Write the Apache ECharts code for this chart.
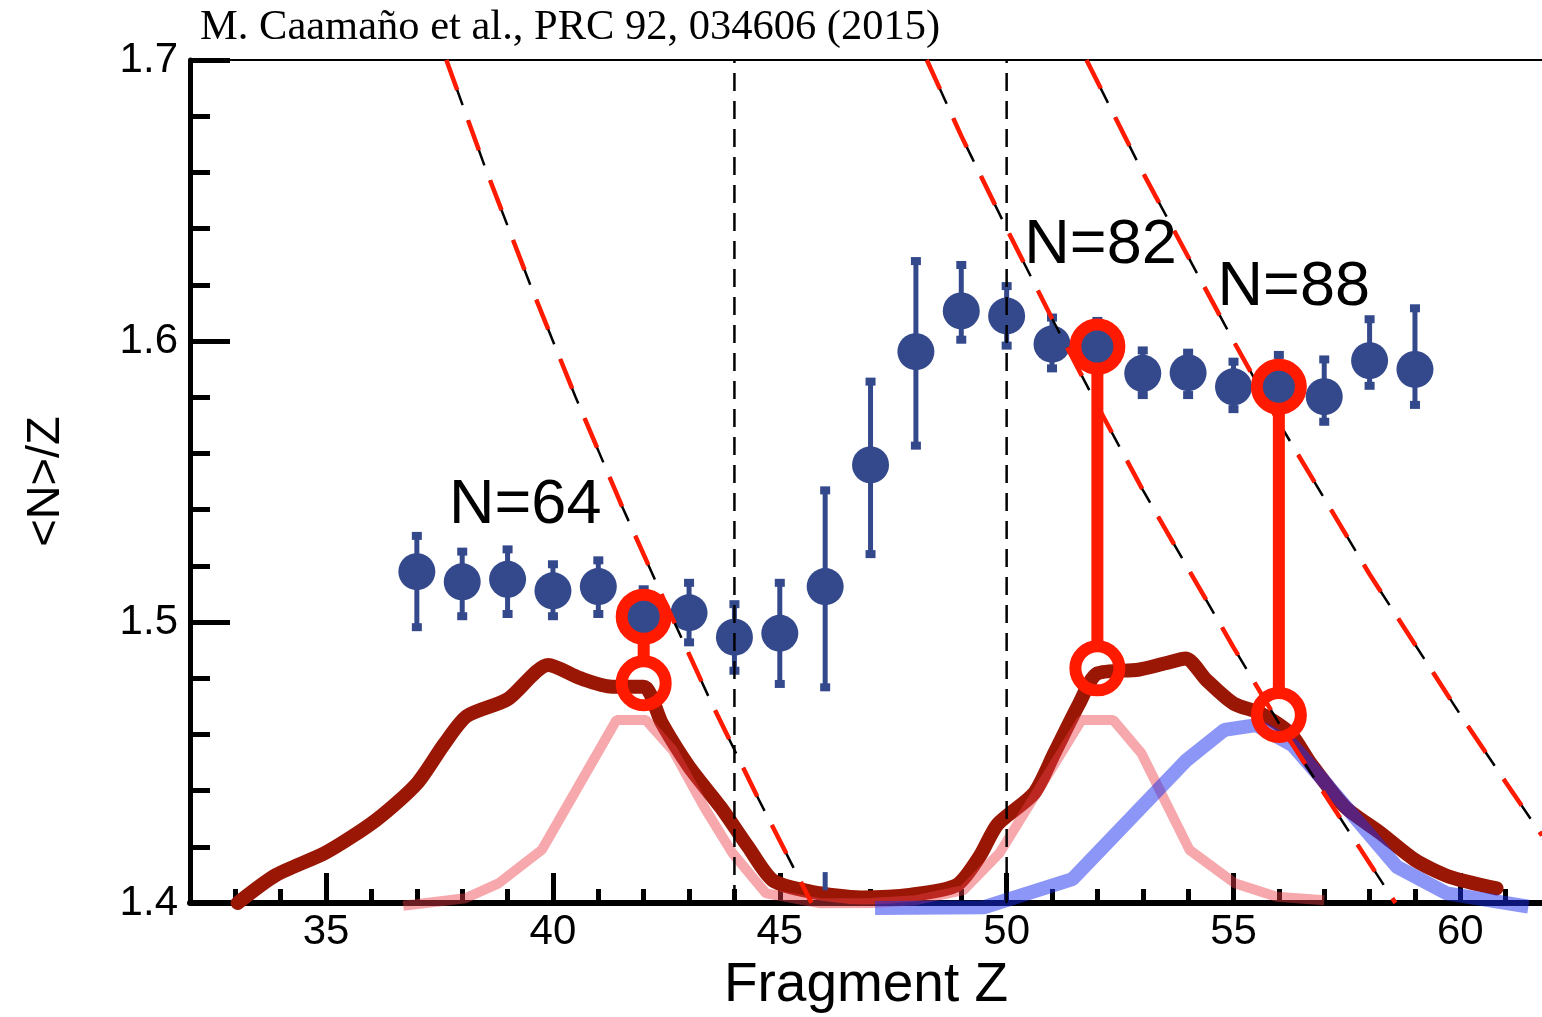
<!DOCTYPE html>
<html>
<head>
<meta charset="utf-8">
<script src="https://cdn.jsdelivr.net/npm/echarts@6/dist/echarts.min.js"></script>
<style>
html,body{margin:0;padding:0;background:#fff;}
#chart{width:1542px;height:1017px;}
</style>
</head>
<body>
<div id="chart"></div>
<script>
// ---- data ----
const zValues = [37,38,39,40,41,42,43,44,45,46,47,48,49,50,51,52,53,54,55,56,57,58,59];
const meanNZ  = [1.5179,1.5143,1.5152,1.5111,1.5126,1.5019,1.5033,1.4946,1.4960,1.5126,1.5559,1.5962,1.6107,1.6089,1.5989,1.5980,1.5885,1.5887,1.5837,1.5837,1.5802,1.5930,1.5899];
const errLow  = [1.4978,1.5017,1.5025,1.5017,1.5025,1.4920,1.4924,1.4823,1.4776,1.4764,1.5238,1.5624,1.6001,1.5980,1.5899,1.5890,1.5804,1.5804,1.5754,1.5740,1.5709,1.5837,1.5769];
const errHigh = [1.5310,1.5254,1.5262,1.5209,1.5223,1.5120,1.5143,1.5067,1.5143,1.5472,1.5859,1.6288,1.6274,1.6199,1.6087,1.6075,1.5970,1.5962,1.5930,1.5954,1.5938,1.6081,1.6120];
const strayZ = [46];
const strayLow = [1.4045];
const strayHigh = [1.4110];

const yieldZ = [33.05,33.9,35.0,36.1,37.0,37.6,38.1,39.0,39.9,40.6,41.3,42.0,42.4,43.0,43.7,44.3,44.85,45.7,46.8,47.9,48.9,49.4,49.8,50.6,51.05,51.6,52.0,52.9,53.5,53.95,54.4,55.0,55.6,56.25,56.7,57.45,58.25,59.0,59.75,60.8];
const yieldV = [1.400,1.410,1.418,1.4295,1.4425,1.4565,1.4665,1.4725,1.4847,1.480,1.477,1.477,1.464,1.4485,1.434,1.420,1.408,1.404,1.402,1.403,1.4064,1.4165,1.428,1.439,1.4533,1.471,1.4817,1.483,1.4853,1.487,1.4794,1.471,1.4675,1.4604,1.4497,1.4343,1.4248,1.4153,1.4094,1.4052];

const pinkZ = [36.7,38.07,38.8,39.76,41.4,42.05,42.64,43.37,43.96,44.7,45.9,47.0,48.0,49.05,49.84,51.65,52.35,52.97,54.03,55.03,55.95,57.0];
const pinkV = [1.399,1.4017,1.407,1.419,1.4651,1.4651,1.4544,1.4331,1.4177,1.4034,1.3999,1.400,1.401,1.4046,1.4177,1.4651,1.4651,1.4533,1.4189,1.407,1.4022,1.401];

const blueZ = [47.1,49.5,51.45,53.97,54.8,55.5,56.3,57.1,58.6,59.7,61.5];
const blueV = [1.3982,1.3985,1.4085,1.4509,1.4616,1.4633,1.4562,1.4414,1.4129,1.4034,1.3987];

const n64Z = [37.65,38.5,39.5,40.5,41.5,42.5,43.5,44.5,45.7];
const n64V = [1.700,1.662,1.620,1.580,1.542,1.506,1.471,1.438,1.400];
const n82Z = [48.24,49,50,51,52,53,54,55,56,57,58.57];
const n82V = [1.700,1.673,1.640,1.608,1.577,1.547,1.519,1.491,1.464,1.439,1.400];
const n88Z = [51.76,53,54,55,56,57,58,59,60,61,61.8];
const n88V = [1.700,1.660,1.630,1.600,1.571,1.544,1.517,1.492,1.467,1.443,1.424];

const vLineZ = [44, 50];

const ringZ = [42,52,56];
const ringTop = [1.5019,1.5980,1.5837];
const ringBottom = [1.4782,1.4835,1.4669];

const annoZ = [37.71,50.39,54.65];
const annoV = [1.5413,1.6338,1.6189];
const annoText = ['N=64','N=82','N=88'];

const xMajorTicks = [35,40,45,50,55,60];
const xMinorTicks = [33,34,36,37,38,39,41,42,43,44,46,47,48,49,51,52,53,54,56,57,58,59,61];
const titleText = 'M. Caamaño et al., PRC 92, 034606 (2015)';

// ---- build ----
const zip = (a, b) => a.map((v, i) => [v, b[i]]);
const SANS = 'Liberation Sans, Arial, Helvetica, sans-serif';
const BLUE = '#34498c';
const RED = '#ff1a00';
const RING_SIZE = 44;

const errData = zValues.map((z, i) => [z, errLow[i], errHigh[i], 1])
  .concat(strayZ.map((z, i) => [z, strayLow[i], strayHigh[i], 0]));

function renderErr(params, api) {
  const z = api.value(0);
  const lo = api.coord([z, api.value(1)]);
  const hi = api.coord([z, api.value(2)]);
  const caps = api.value(3) === 1;
  const children = [{
    type: 'line',
    shape: { x1: lo[0], y1: lo[1], x2: hi[0], y2: hi[1] },
    style: { stroke: BLUE, lineWidth: 5 }
  }];
  if (caps) {
    children.push({ type: 'rect', shape: { x: hi[0] - 5, y: hi[1] - 3, width: 10, height: 8 }, style: { fill: BLUE } });
    children.push({ type: 'rect', shape: { x: lo[0] - 5, y: lo[1] - 5, width: 10, height: 8 }, style: { fill: BLUE } });
  }
  return { type: 'group', children };
}

// connector between the two rings: runs from ring edge to ring edge
function renderConnector(params, api) {
  const z = api.value(0);
  const top = api.coord([z, api.value(1)]);
  const bot = api.coord([z, api.value(2)]);
  const r = RING_SIZE / 2;
  return {
    type: 'line',
    shape: { x1: top[0], y1: top[1] + r, x2: bot[0], y2: bot[1] - r },
    style: { stroke: RED, lineWidth: 12 }
  };
}

const connectorData = ringZ.map((z, i) => [z, ringTop[i], ringBottom[i]]);
const ringData = ringZ.map((z, i) => [z, ringTop[i]]).concat(ringZ.map((z, i) => [z, ringBottom[i]]));

const vLineSeries = vLineZ.map(z => ({
  type: 'line',
  data: [[z, 1.4], [z, 1.7]],
  symbol: 'none',
  lineStyle: { color: '#000', width: 2.5, type: [18, 10] },
  z: 4
}));

function hyper(z, v) {
  return [
    { type: 'line', data: zip(z, v), symbol: 'none', lineStyle: { color: '#000', width: 2.5, type: [48, 16] }, z: 4 },
    { type: 'line', data: zip(z, v), symbol: 'none', lineStyle: { color: RED, width: 4.5, type: [32, 32] }, z: 4 }
  ];
}

const option = {
  animation: false,
  backgroundColor: '#fff',
  title: {
    text: titleText,
    left: 200, top: 6, padding: 0,
    textStyle: { fontFamily: 'Liberation Serif, Times New Roman, serif', fontSize: 42.5, fontWeight: 'normal', color: '#000' }
  },
  grid: { left: 190, right: 0, top: 60, bottom: 114, containLabel: false, outerBoundsMode: 'none' },
  xAxis: [
    {
      type: 'value', min: 32, max: 61.8, position: 'bottom',
      name: 'Fragment Z', nameLocation: 'middle', nameGap: 54,
      nameTextStyle: { fontFamily: SANS, fontSize: 55, color: '#000' },
      axisLine: { show: true, onZero: false, lineStyle: { color: '#000', width: 6 } },
      axisTick: { show: true, inside: true, length: 30, customValues: xMajorTicks, lineStyle: { color: '#000', width: 5 } },
      axisLabel: { show: true, customValues: xMajorTicks, margin: 8, fontFamily: SANS, fontSize: 42, color: '#000' },
      splitLine: { show: false }
    },
    {
      type: 'value', min: 32, max: 61.8, position: 'bottom',
      axisLine: { show: false },
      axisTick: { show: true, inside: true, length: 14, customValues: xMinorTicks, lineStyle: { color: '#000', width: 5 } },
      axisLabel: { show: false },
      splitLine: { show: false }
    },
    {
      type: 'value', min: 32, max: 61.8, position: 'top',
      axisLine: { show: true, onZero: false, lineStyle: { color: '#000', width: 2 } },
      axisTick: { show: false }, axisLabel: { show: false }, splitLine: { show: false }
    }
  ],
  yAxis: [{
    type: 'value', min: 1.4, max: 1.7, interval: 0.1,
    name: '<N>/Z', nameLocation: 'middle', nameGap: 120, nameRotate: 90,
    nameTextStyle: { fontFamily: SANS, fontSize: 47, color: '#000' },
    axisLine: { show: true, onZero: false, lineStyle: { color: '#000', width: 5 } },
    axisTick: { show: true, inside: true, length: 40, lineStyle: { color: '#000', width: 5 } },
    minorTick: { show: true, splitNumber: 5, length: 20, lineStyle: { color: '#000', width: 5 } },
    axisLabel: { margin: 12, fontFamily: SANS, fontSize: 42, color: '#000', formatter: v => v.toFixed(1) },
    splitLine: { show: false }, minorSplitLine: { show: false }
  }],
  series: [
    { type: 'line', data: zip(yieldZ, yieldV), symbol: 'none', clip: false, smooth: 0.25,
      lineStyle: { color: '#9a1705', width: 14, cap: 'round', join: 'round' }, z: 2 },
    { type: 'line', data: zip(pinkZ, pinkV), symbol: 'none', clip: false,
      lineStyle: { color: 'rgba(236,62,72,0.45)', width: 10 }, z: 2 },
    { type: 'line', data: zip(blueZ, blueV), symbol: 'none', clip: false,
      lineStyle: { color: 'rgba(25,45,240,0.5)', width: 14 }, z: 2 },
    { type: 'custom', data: errData, renderItem: renderErr, encode: { x: 0, y: [1, 2] }, clip: false, z: 3 },
    { type: 'scatter', data: zip(zValues, meanNZ), symbol: 'circle', symbolSize: 37,
      itemStyle: { color: BLUE, opacity: 1 }, z: 3 },
    ...vLineSeries,
    ...hyper(n64Z, n64V),
    ...hyper(n82Z, n82V),
    ...hyper(n88Z, n88V),
    { type: 'custom', data: connectorData, renderItem: renderConnector, encode: { x: 0, y: [1, 2] }, clip: false, z: 5 },
    { type: 'scatter', data: ringData, symbol: 'circle', symbolSize: RING_SIZE,
      itemStyle: { color: 'rgba(0,0,0,0)', borderColor: RED, borderWidth: 12, opacity: 1 }, z: 6 },
    { type: 'scatter', data: annoZ.map((z, i) => [z, annoV[i], annoText[i]]), symbolSize: 0,
      itemStyle: { color: '#000', opacity: 1 }, z: 7,
      label: { show: true, position: 'right', distance: 0, formatter: p => p.value[2],
        fontFamily: SANS, fontSize: 63, color: '#000', opacity: 1, textBorderWidth: 0 } }
  ]
};

const chart = echarts.init(document.getElementById('chart'), null, { renderer: 'canvas' });
chart.setOption(option);
</script>
</body>
</html>
